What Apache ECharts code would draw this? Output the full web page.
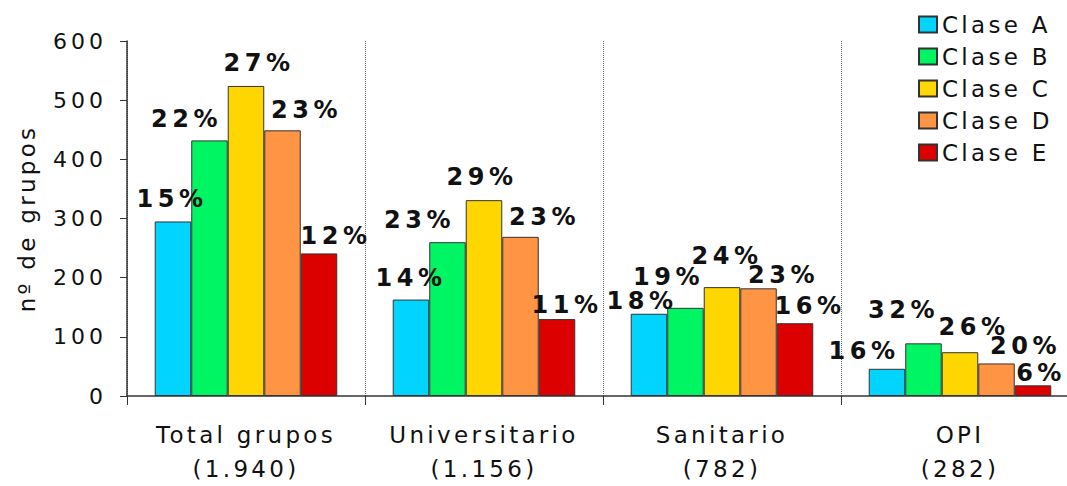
<!DOCTYPE html>
<html lang="es">
<head>
    <meta charset="UTF-8">
    <script src="https://cdn.jsdelivr.net/npm/echarts@6/dist/echarts.min.js"></script>
    <style>
        html, body { margin: 0; padding: 0; background: #fff; overflow: hidden; }
        /* the last category runs past the right edge of the picture, so the chart is a bit wider than the window */
        #main { width: 1080px; height: 486px; }
        /* the reference text is drawn wide, so open up the letters a little */
        #main text { letter-spacing: 3.3px; }
        #main text[style*="bold"] { letter-spacing: 4.5px; }
        #main text[style*="22px"] { letter-spacing: 4px; }
    </style>
</head>
<body>
    <div id="main"></div>
</body>
<script>
    // datos
    var categorias = ['Total grupos', 'Universitario', 'Sanitario', 'OPI'];
    var totales = ['(1.940)', '(1.156)', '(782)', '(282)'];
    var yTicks = [0, 100, 200, 300, 400, 500, 600];

    var claseA = [295, 163, 139, 46];
    var claseB = [432, 260, 149, 89];
    var claseC = [524, 331, 184, 74];
    var claseD = [449, 269, 182, 55];
    var claseE = [241, 130, 123, 18];

    var pctA = ['15%', '14%', '18%', '16%'];
    var pctB = ['22%', '23%', '19%', '32%'];
    var pctC = ['27%', '29%', '24%', '26%'];
    var pctD = ['23%', '23%', '23%', '20%'];
    var pctE = ['12%', '11%', '16%', '6%'];

    // posición de cada etiqueta respecto al borde superior de la barra (como en el original)
    var offsets = {
        A: [[-1, -22], [0, -22], [-7, -13], [-23, -18]],
        B: [[-23, -21], [-28, -22], [-17, -31], [-20, -33]],
        C: [[13, -23], [-2, -23], [5, -31], [14, -25]],
        D: [[24, -20], [24, -20], [25, -13], [29, -17]],
        E: [[17, -17], [10, -14], [15, -17], [8, -12]]
    };

    var font = '"DejaVu Sans", Verdana, sans-serif';

    function serie(nombre, clave, valores, pct, color) {
        return {
            name: nombre,
            type: 'bar',
            barGap: 0,
            barCategoryGap: '23.3%',
            itemStyle: { color: color, borderColor: '#333', borderWidth: 1 },
            data: valores.map(function (v, i) {
                return {
                    value: v,
                    label: { offset: offsets[clave][i] }
                };
            }),
            label: {
                show: true,
                position: 'top',
                distance: 0,
                verticalAlign: 'middle',
                fontFamily: font,
                fontWeight: 'bold',
                fontSize: 24,
                lineHeight: 20,
                color: '#111',
                formatter: function (p) { return pct[p.dataIndex]; }
            }
        };
    }

    var myChart = echarts.init(document.getElementById('main'), null, { renderer: 'svg' });

    var option = {
        animation: false,
        backgroundColor: '#fff',
        grid: { left: 127, top: 41, width: 952, height: 355, containLabel: false },
        legend: {
            orient: 'vertical',
            left: 913,
            top: 8,
            itemWidth: 18,
            itemHeight: 16,
            itemGap: 9,
            icon: 'rect',
            textStyle: { fontFamily: font, fontSize: 23, lineHeight: 23, color: '#111' },
            data: ['Clase A', 'Clase B', 'Clase C', 'Clase D', 'Clase E']
        },
        xAxis: {
            type: 'category',
            data: categorias.map(function (c, i) { return c + '\n' + totales[i]; }),
            axisLine: { lineStyle: { color: '#333', width: 1.5 } },
            axisTick: { show: true, length: 9, lineStyle: { color: '#333' } },
            axisLabel: {
                margin: 22,
                fontFamily: font,
                fontSize: 23,
                lineHeight: 34,
                color: '#111'
            },
            splitLine: { show: true, lineStyle: { color: '#666', type: 'dotted', width: 1 } }
        },
        yAxis: {
            type: 'value',
            min: yTicks[0],
            max: yTicks[yTicks.length - 1],
            interval: 100,
            name: 'nº de grupos',
            nameLocation: 'middle',
            nameGap: 89,
            nameTextStyle: { fontFamily: font, fontSize: 23, color: '#111' },
            axisLine: { show: true, lineStyle: { color: '#333', width: 1.5 } },
            axisTick: { show: true, length: 7, lineStyle: { color: '#333' } },
            axisLabel: { margin: 20, fontFamily: font, fontSize: 22, color: '#111' },
            splitLine: { show: false }
        },
        series: [
            serie('Clase A', 'A', claseA, pctA, '#00D4FF'),
            serie('Clase B', 'B', claseB, pctB, '#00F562'),
            serie('Clase C', 'C', claseC, pctC, '#FFD600'),
            serie('Clase D', 'D', claseD, pctD, '#FF9444'),
            serie('Clase E', 'E', claseE, pctE, '#DD0000')
        ]
    };
    myChart.setOption(option);
</script>
</html>
